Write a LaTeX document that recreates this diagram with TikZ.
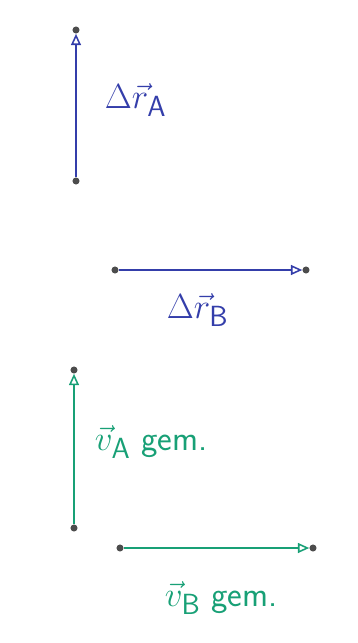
\documentclass[tikz,border=0pt]{standalone}
\usepackage{amsmath}
\usepackage{tikz}
\usetikzlibrary{arrows.meta}
\definecolor{penblue}{RGB}{52,62,170}
\definecolor{pengreen}{RGB}{24,160,118}
\tikzset{
  vec arrow/.style={
    -{Triangle[open, length=8pt, width=7pt]},
    line width=1.1pt
  },
  end dot/.style={
    circle,
    fill=black!70,
    inner sep=0pt,
    minimum size=5pt
  },
  vec label/.style={
    font=\Huge\sffamily,
    anchor=west
  }
}

\begin{document}
\begin{tikzpicture}[x=0.025cm, y=-0.025cm]
    \useasboundingbox (0,0) rectangle (357,643);

    % Verschiebungen
    \node[end dot] (rA0) at (76,181) {};
    \node[end dot] (rA1) at (76,30) {};
    \draw[vec arrow, penblue] (rA0) -- (rA1);
    \node[vec label, penblue] (rAlabel) at (100,100) {$\Delta\vec{r}_{\mathsf{A}}$};

    \node[end dot] (rB0) at (115,270) {};
    \node[end dot] (rB1) at (306,270) {};
    \draw[vec arrow, penblue] (rB0) -- (rB1);
    \node[vec label, penblue] (rBlabel) at (162,310) {$\Delta\vec{r}_{\mathsf{B}}$};

    % gemittelte Geschwindigkeiten
    \node[end dot] (vA0) at (74,528) {};
    \node[end dot] (vA1) at (74,370) {};
    \draw[vec arrow, pengreen] (vA0) -- (vA1);
    \node[vec label, pengreen] (vAlabel) at (90,442) {$\vec{v}_{\mathsf{A}}$ gem.};

    \node[end dot] (vB0) at (120,548) {};
    \node[end dot] (vB1) at (313,548) {};
    \draw[vec arrow, pengreen] (vB0) -- (vB1);
    \node[vec label, pengreen] (vBlabel) at (160,598) {$\vec{v}_{\mathsf{B}}$ gem.};

\end{tikzpicture}
\end{document}
